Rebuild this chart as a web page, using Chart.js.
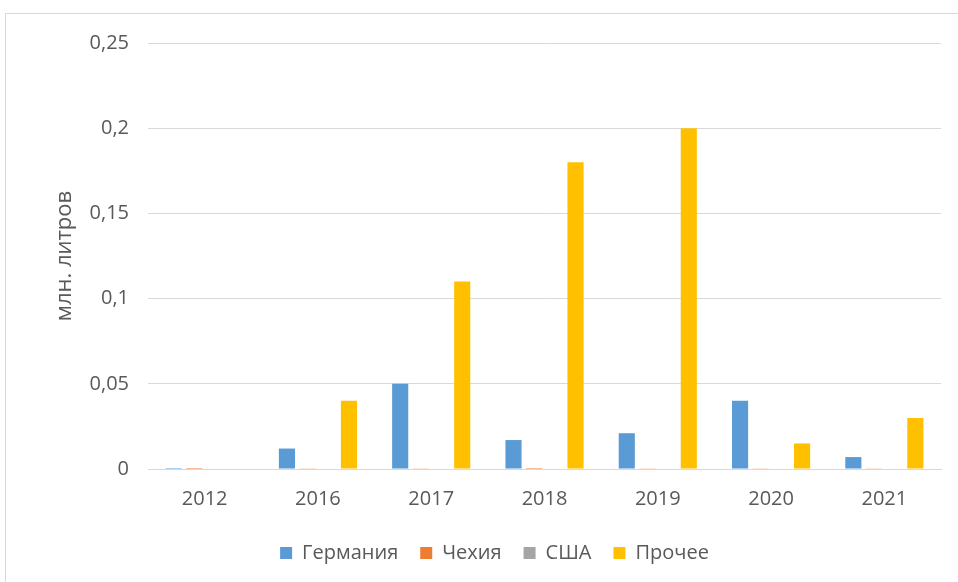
<!DOCTYPE html>
<html>
<head>
<meta charset="utf-8">
<script src="https://cdn.jsdelivr.net/npm/chart.js@4"></script>
<style>
  html, body { margin: 0; padding: 0; background: #fff; }
  #wrap { position: relative; width: 958px; height: 582px; overflow: hidden; }
  #frame { position: absolute; left: 5px; top: 13px; width: 1000px; height: 700px; border: 1px solid #d9d9d9; box-sizing: border-box; }
  canvas { position: absolute; left: 0; top: 0; }
</style>
</head>
<body>
<div id="wrap">
  <div id="frame"></div>
  <canvas id="chart" width="958" height="582"></canvas>
</div>
<script>
const years = ['2012', '2016', '2017', '2018', '2019', '2020', '2021'];
const germany = [0.0006, 0.012, 0.05, 0.017, 0.021, 0.04, 0.007];
const czech = [0.0006, 0.0004, 0.0004, 0.0006, 0.0004, 0.0004, 0.0004];
const usa = [0, 0, 0, 0, 0, 0, 0];
const other = [0, 0.04, 0.11, 0.18, 0.2, 0.015, 0.03];
const yTicks = [0, 0.05, 0.1, 0.15, 0.2, 0.25];

const textColor = '#595959';
const font = { family: 'Open Sans, Calibri, sans-serif', size: 20 };

new Chart(document.getElementById('chart').getContext('2d'), {
  type: 'bar',
  data: {
    labels: years,
    datasets: [
      { label: 'Германия', data: germany, backgroundColor: '#5b9bd5' },
      { label: 'Чехия', data: czech, backgroundColor: '#ed7d31' },
      { label: 'США', data: usa, backgroundColor: '#a5a5a5' },
      { label: 'Прочее', data: other, backgroundColor: '#ffc000' }
    ]
  },
  options: {
    responsive: false,
    animation: false,
    layout: { padding: { left: 48, right: 17, top: 43, bottom: 9 } },
    datasets: { bar: { categoryPercentage: 0.73, barPercentage: 0.78 } },
    plugins: {
      legend: {
        position: 'bottom',
        labels: { color: textColor, font: font, boxWidth: 12, boxHeight: 12, padding: 22 }
      },
      tooltip: { enabled: false }
    },
    scales: {
      x: {
        grid: { display: false },
        border: { color: '#d9d9d9' },
        ticks: { color: textColor, font: font, padding: 10 }
      },
      y: {
        min: 0,
        max: 0.25,
        afterFit: (scale) => { scale.width = 100; },
        afterBuildTicks: (scale) => { scale.ticks = yTicks.map(v => ({ value: v })); },
        border: { display: false },
        grid: { color: '#d9d9d9', drawTicks: false },
        ticks: {
          color: textColor,
          font: font,
          padding: 19,
          callback: (v) => String(v).replace('.', ',')
        },
        title: { display: true, text: 'млн. литров', color: textColor, font: { family: font.family, size: 22 } }
      }
    }
  }
});
</script>
</body>
</html>
